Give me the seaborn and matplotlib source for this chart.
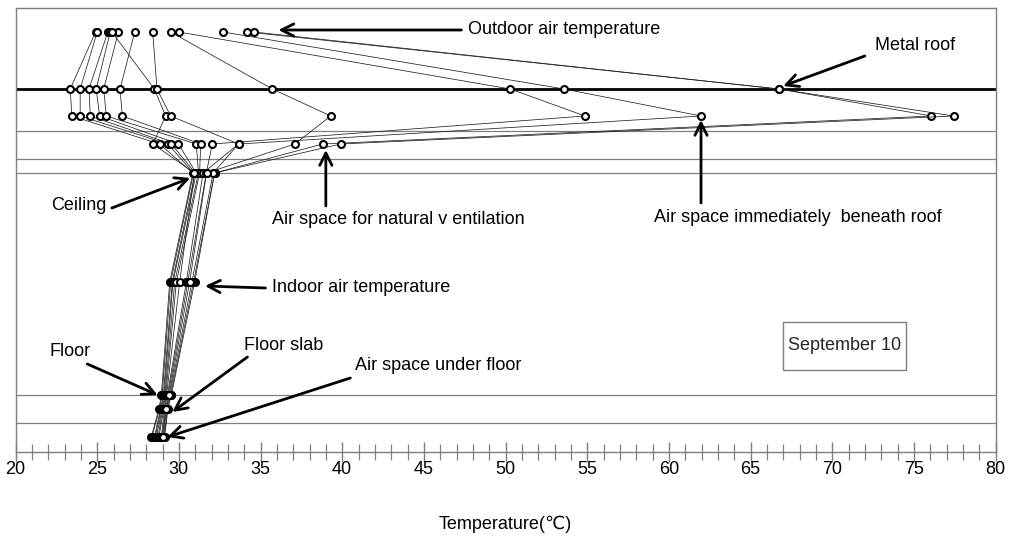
import matplotlib
matplotlib.use("Agg")
import matplotlib.pyplot as plt
import seaborn as sns
import pandas as pd
from matplotlib.ticker import MultipleLocator
from matplotlib.patches import Rectangle

sns.set_theme(style="white")
plt.rcParams['font.family'] = ['Liberation Sans', 'DejaVu Sans']

# ---- data: temperature profiles (one value per profile at each level) ----
levels = ["Outdoor air", "Metal roof", "Air space beneath roof",
          "Air space for natural ventilation", "Ceiling", "Indoor air",
          "Floor", "Floor slab", "Air space under floor"]
level_height = [420, 363, 336, 308, 279, 170, 57, 43, 15]

outdoor   = [24.9, 25.0, 25.65, 25.8, 26.3, 27.3, 25.9, 28.4, 30.0, 34.2, 34.6, 32.7, 29.5]
roof      = [23.35, 23.96, 24.5, 24.94, 25.4, 26.4, 28.5, 28.66, 50.3, 66.75, 66.75, 53.6, 35.73]
beneath   = [23.45, 23.96, 24.58, 25.15, 25.56, 26.54, 29.19, 29.5, 54.86, 76.07, 77.44, 61.97, 39.3]
vent      = [28.82, 29.33, 29.54, 29.97, 31.07, 31.34, 28.41, 33.66, 32.05, 38.8, 39.9, 33.66, 37.1]
ceiling   = [30.86, 30.9, 31.0, 31.07, 31.2, 31.27, 30.95, 31.48, 31.68, 32.19, 32.19, 32.1, 31.7]
indoor    = [29.44, 29.5, 29.6, 29.64, 29.75, 29.85, 30.05, 30.46, 30.55, 30.97, 30.9, 30.8, 30.66]
floor     = [28.93, 28.98, 29.05, 29.1, 29.15, 29.2, 29.25, 29.3, 29.35, 29.54, 29.5, 29.45, 29.4]
slab      = [28.78, 28.82, 28.88, 28.92, 28.98, 29.02, 29.08, 29.12, 29.18, 29.33, 29.3, 29.25, 29.22]
underfloor = [28.31, 28.35, 28.51, 28.55, 28.62, 28.72, 28.78, 28.93, 28.98, 29.13, 29.1, 29.05, 29.0]

series = [outdoor, roof, beneath, vent, ceiling, indoor, floor, slab, underfloor]
thin_boundaries = [321, 293, 279, 57, 29]
roof_boundary = 363

rows = []
for p in range(len(outdoor)):
    for lv, h, vals in zip(levels, level_height, series):
        rows.append({"profile": p, "level": lv, "height": h, "temp": vals[p]})
df = pd.DataFrame(rows)

# ---- figure ----
fig = plt.figure(figsize=(10.13, 5.39), dpi=100)
ax = fig.add_axes([15.5 / 1013, 87 / 539, 980 / 1013, 444 / 539])

for h in thin_boundaries:
    ax.axhline(h, color="#7f7f7f", lw=0.9, zorder=1)
ax.axhline(roof_boundary, color="black", lw=2.0, zorder=1)

sns.lineplot(data=df, x="temp", y="height", units="profile", estimator=None,
             sort=False, color="#222222", lw=0.55, marker="o", markersize=5,
             markerfacecolor="white", markeredgecolor="black",
             markeredgewidth=1.5, legend=False, ax=ax, zorder=3)

fs = 13
ax.set_xlim(20, 80)
ax.set_ylim(0, 444)
ax.set_yticks([])
ax.set_ylabel("")
ax.xaxis.set_major_locator(MultipleLocator(5))
ax.xaxis.set_minor_locator(MultipleLocator(1))
ax.tick_params(axis="x", which="major", direction="inout", length=15, width=1,
               color="#7f7f7f", bottom=True, labelsize=fs, pad=-1, labelcolor="black")
ax.tick_params(axis="x", which="minor", direction="inout", length=11, width=0.9,
               color="#7f7f7f", bottom=True)
for s in ax.spines.values():
    s.set_color("#7f7f7f")
    s.set_linewidth(1.0)
ax.set_xlabel("Temperature(℃)", fontsize=fs, labelpad=27, color="black")

arrow = dict(arrowstyle="->", lw=2, color="black", mutation_scale=22, shrinkA=0, shrinkB=0)

def label(text, x, y, tail, head):
    ax.text(x, y, text, fontsize=fs, ha="left", va="center", color="black", zorder=5)
    ax.annotate("", xy=head, xytext=tail, arrowprops=arrow, zorder=5)

label("Outdoor air temperature", 47.7, 423, (47.3, 422), (36.1, 422))
label("Metal roof", 72.6, 407, (72.0, 396), (67.0, 366))
label("Air space immediately  beneath roof", 59.1, 235, (61.97, 249), (61.97, 332))
label("Air space for natural v entilation", 35.7, 232, (39.0, 246), (39.0, 302))
label("Ceiling", 22.2, 247, (25.9, 244), (30.7, 274))
label("Indoor air temperature", 35.7, 164, (35.3, 164), (31.6, 166))
label("Floor", 22.1, 100, (24.4, 88), (28.7, 57))
label("Floor slab", 34.0, 107, (34.2, 95), (29.6, 40))
label("Air space under floor", 40.8, 86, (40.5, 74), (29.3, 15))

ax.add_patch(Rectangle((66.97, 82), 7.53, 48, fill=False, edgecolor="#7f7f7f", lw=1, zorder=4))
ax.text(70.74, 106, "September 10", fontsize=fs, ha="center", va="center", zorder=5)

fig.savefig("out.png", dpi=100)
